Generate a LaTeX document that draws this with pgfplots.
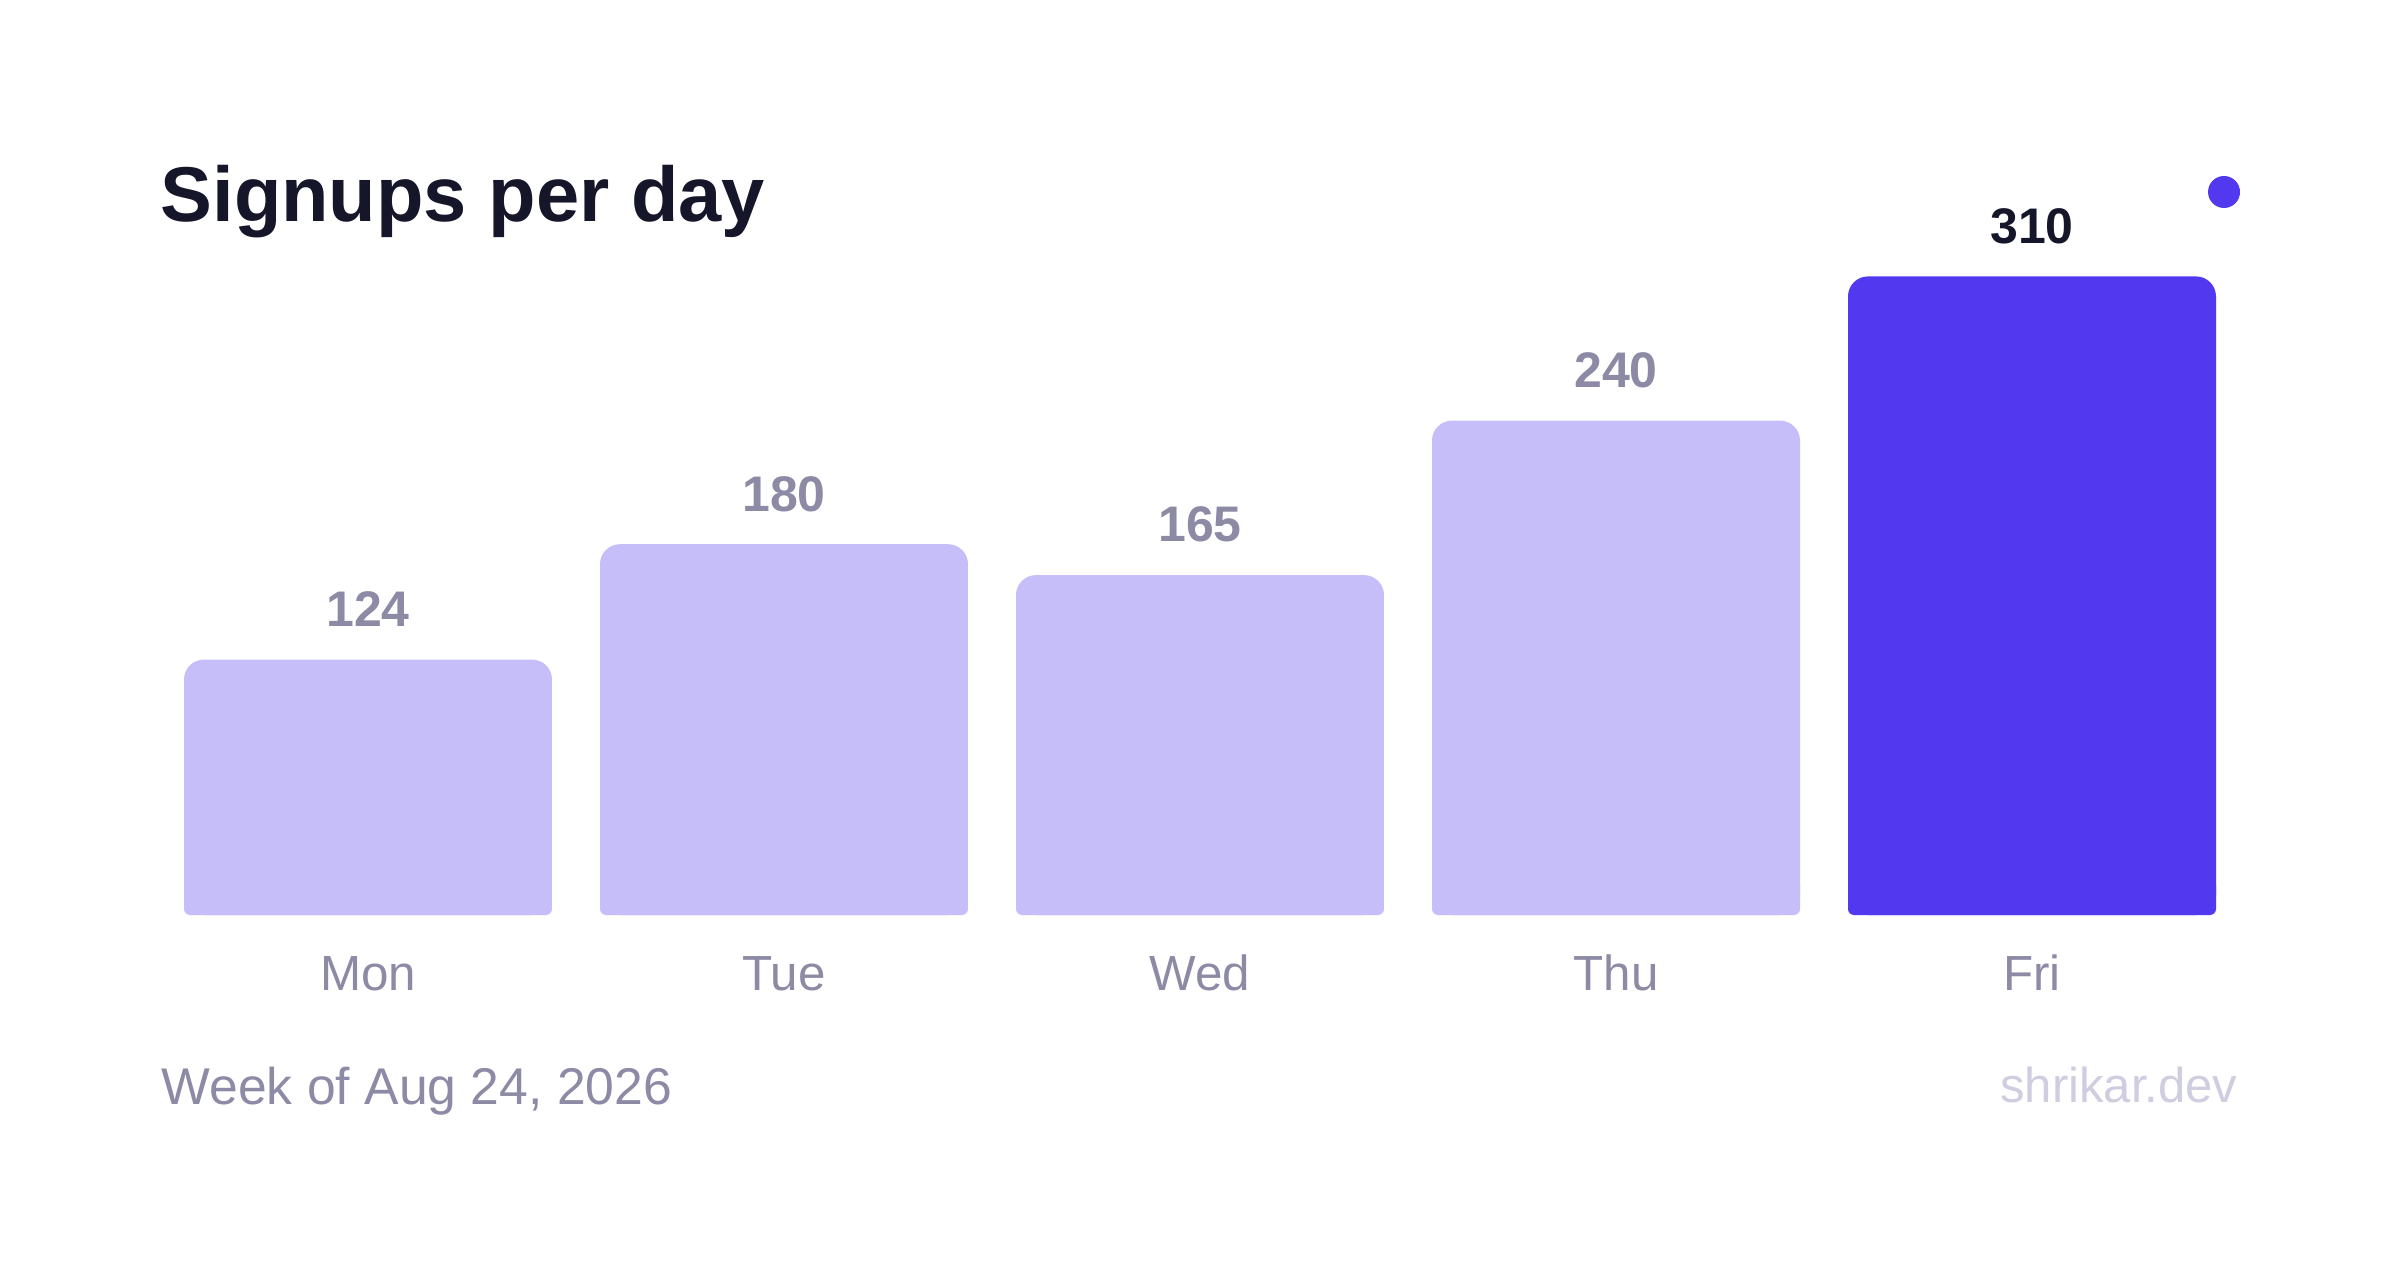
\documentclass[border=0pt]{standalone}
\usepackage{fontspec}
\setmainfont{Liberation Sans}
\usepackage{pgfplots}
\pgfplotsset{compat=1.18}
\usepackage{pgfplotstable}

\definecolor{barlight}{HTML}{C6BEF8}
\definecolor{bardark}{HTML}{5238EE}
\definecolor{titlecol}{HTML}{16162B}
\definecolor{graytext}{HTML}{8C8AA5}
\definecolor{lighttext}{HTML}{CFCDE0}

\pgfplotstableread{
x y
0 124
1 180
2 165
3 240
}\lightdata
\pgfplotstableread{
x y
4 310
}\darkdata

\begin{document}
\begin{tikzpicture}
\useasboundingbox (0,0) rectangle (720pt,378pt);
\fill[white] (0,0) rectangle (720pt,378pt);

\begin{axis}[
  at={(48pt,103.5pt)}, anchor=south west,
  scale only axis, width=624pt, height=247.2pt,
  xmin=-0.5, xmax=4.5, ymin=0, ymax=400,
  axis x line*=bottom, axis y line=none,
  x axis line style={draw=none},
  xtick={0,1,2,3,4}, xticklabels={Mon,Tue,Wed,Thu,Fri},
  major tick length=0pt,
  xticklabel style={anchor=base, yshift=-22.5pt, inner sep=0pt, text=graytext, font=\fontsize{14.8pt}{16pt}\selectfont},
  ytick=\empty,
  clip=false,
  ybar, bar width=0.8846, bar shift=0pt,
  nodes near coords,
  nodes near coords style={anchor=south, inner sep=0pt, yshift=9.6pt, font=\fontsize{15pt}{18pt}\selectfont\bfseries},
  /pgf/number format/assume math mode=true,
]
\addplot[draw=none, fill=barlight, rounded corners=6pt, nodes near coords style={text=graytext}] table[x=x,y=y]{\lightdata};
\addplot[draw=none, fill=bardark, rounded corners=6pt, nodes near coords style={text=titlecol}] table[x=x,y=y]{\darkdata};
\end{axis}

\begin{axis}[
  at={(48pt,103.5pt)}, anchor=south west,
  scale only axis, width=624pt, height=9pt,
  xmin=-0.5, xmax=4.5, ymin=0, ymax=14.5631,
  hide axis, clip=true,
  ybar, bar width=0.8846, bar shift=0pt,
]
\addplot[draw=none, fill=barlight, rounded corners=1.8pt] table[x=x,y=y]{\lightdata};
\addplot[draw=none, fill=bardark, rounded corners=1.8pt] table[x=x,y=y]{\darkdata};
\end{axis}

\node[anchor=base west, inner sep=0pt, text=titlecol, font=\fontsize{23.3pt}{28pt}\selectfont\bfseries] at (48pt,311.4pt) {Signups per day};
\node[anchor=base west, inner sep=0pt, text=graytext, font=\fontsize{15.5pt}{18pt}\selectfont] at (48.3pt,46.8pt) {Week of Aug 24, 2026};
\node[anchor=base east, inner sep=0pt, text=lighttext, font=\fontsize{14.7pt}{18pt}\selectfont] at (671.4pt,47.2pt) {shrikar.dev};
\fill[bardark] (667.2pt,320.4pt) circle (4.8pt);
\end{tikzpicture}
\end{document}
